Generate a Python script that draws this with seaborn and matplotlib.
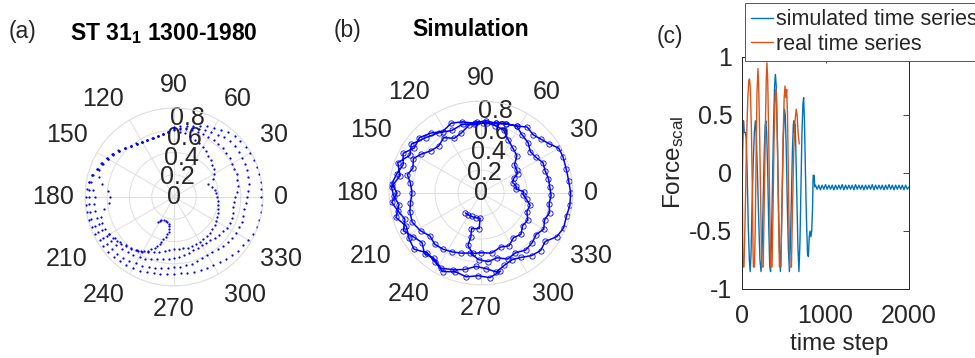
import numpy as np
import pandas as pd
import matplotlib
matplotlib.use("Agg")
import matplotlib.pyplot as plt
import seaborn as sns

# ---------------- (a) measured phase trajectory ----------------
# polar angle (deg) shared by the four sweeps of the trajectory
ANG_A = [90, 85, 80, 75, 70, 65, 60, 55, 50, 45, 40, 35,
         30, 25, 20, 15, 10, 5, 0, -5, -10, -15, -20, -25,
         -30, -35, -40, -45, -50, -55, -60, -65, -70, -75, -80, -85,
         -90, -95, -100, -105, -110, -115, -120, -125, -130, -135, -140, -145,
         -150, -155, -160, -165, -170, -175, -180, -185, -190, -195, -200, -205,
         -210, -215, -220, -225, -230, -235, -240, -245, -250, -255, -260, -265]
SWEEP_1 = [0.60, 0.59, 0.585, 0.57, 0.55, 0.535, 0.52, 0.50, 0.48, 0.465, 0.45, 0.435,
           0.42, 0.39, 0.33, 0.35, 0.37, 0.38, 0.39, 0.395, 0.40, 0.41, 0.42, 0.43,
           0.44, 0.445, 0.45, 0.455, 0.46, 0.46, 0.465, 0.465, 0.47, 0.47, 0.47, 0.47,
           0.47, 0.48, 0.49, 0.51, 0.53, 0.55, 0.57, 0.585, 0.60, 0.615, 0.63, 0.65,
           0.67, 0.68, 0.69, 0.68, 0.64, 0.59, 0.575, 0.60, 0.66, 0.70, 0.72, 0.705,
           0.69, 0.668, 0.646, 0.62, 0.597, 0.583, 0.57, 0.566, 0.563, 0.567, 0.573, 0.585]
SWEEP_2 = [0.61, 0.615, 0.62, 0.62, 0.62, 0.62, 0.62, 0.62, 0.62, 0.62, 0.615, 0.61,
           0.60, 0.60, 0.60, 0.59, 0.58, 0.565, 0.55, 0.545, 0.54, 0.55, 0.555, 0.555,
           0.55, 0.54, 0.53, 0.52, 0.51, 0.50, 0.50, 0.505, 0.51, 0.52, 0.53, 0.54,
           0.55, 0.56, 0.57, 0.58, 0.595, 0.61, 0.62, 0.635, 0.65, 0.66, 0.675, 0.69,
           0.70, 0.71, 0.72, 0.72, 0.72, 0.72, 0.71, 0.73, 0.76, 0.75, 0.73, 0.71,
           0.69, 0.665, 0.648, 0.622, 0.598, 0.584, 0.571, 0.565, 0.562, 0.566, 0.572, 0.584]
SWEEP_3 = [0.62, 0.625, 0.63, 0.64, 0.65, 0.66, 0.67, 0.685, 0.70, 0.71, 0.71, 0.71,
           0.71, 0.705, 0.70, 0.69, 0.68, 0.67, 0.66, 0.65, 0.64, 0.645, 0.65, 0.645,
           0.64, 0.635, 0.63, 0.62, 0.61, 0.60, 0.60, 0.605, 0.61, 0.62, 0.625, 0.63,
           0.63, 0.64, 0.65, 0.66, 0.67, 0.68, 0.69, 0.70, 0.71, 0.72, 0.73, 0.735,
           0.74, 0.75, 0.76, 0.77, 0.77, 0.77, 0.76, 0.77, 0.78, 0.76, 0.735, 0.715,
           0.695, 0.67, 0.65, 0.624, 0.60, 0.586, 0.573, 0.567, 0.565, 0.569, 0.575, 0.588]
SWEEP_4 = [0.63, 0.64, 0.65, 0.66, 0.68, 0.70, 0.72, 0.74, 0.76, 0.77, 0.78, 0.785,
           0.785, 0.79, 0.795, 0.795, 0.79, 0.785, 0.78, 0.79, 0.795, 0.795, 0.79, 0.78,
           0.77, 0.76, 0.75, 0.74, 0.725, 0.715, 0.71, 0.705, 0.70, 0.70, 0.695, 0.69,
           0.69, 0.695, 0.70, 0.71, 0.72, 0.73, 0.74, 0.75, 0.755, 0.76, 0.77, 0.775,
           0.77, 0.78, 0.785, 0.79, 0.79, 0.79, 0.79, 0.785, 0.78, 0.765, 0.74, 0.72,
           0.70, 0.675, 0.652, 0.626, 0.603, 0.588, 0.575, 0.57, 0.567, 0.572, 0.578, 0.59]
# inner hook where the trajectory starts
HOOK_THETA = [237, 239, 241, 246, 251, 255, 258.6, 260.5, 261.5, 261,
              259.6, 258, 255.5, 254, 253, 251, 249, 246.5, 244, 241,
              238.6, 236.5, 234.5, 230, 225.4, 221.5, 217.7, 213.5, 209.6]
HOOK_R = [0.27, 0.25, 0.235, 0.228, 0.224, 0.232, 0.247, 0.265, 0.291, 0.315,
          0.34, 0.365, 0.392, 0.418, 0.445, 0.467, 0.489, 0.512, 0.536, 0.555,
          0.571, 0.58, 0.59, 0.605, 0.62, 0.633, 0.647, 0.66, 0.677]

# ---------------- (b) simulated phase trajectory ----------------
SIM_THETA = [232, 240, 248, 258, 268, 267, 255, 257, 256, 262,
             270, 280, 290, 298, 306, 314, 322, 330, 338, 346, 352, 357, 362, 366, 372, 378, 384,
             388, 393, 400, 406, 415, 423, 430, 438, 445, 453, 460, 468, 476, 484, 492, 500, 507,
             513, 520, 526, 532, 540, 548, 555, 563, 572, 580, 588, 596, 604, 612, 620,
             628, 636, 644, 652, 660, 668, 676, 683, 690, 697, 704, 711, 718, 725, 732, 739, 746,
             753, 760, 767, 775, 782, 790, 798, 806, 815, 825, 833, 842, 850, 858, 866, 873, 880,
             887, 894, 900, 906, 912, 919, 926, 933, 940, 947, 954, 962, 970, 978, 986,
             994, 1001, 1008, 1015, 1022, 1029, 1036, 1043, 1050, 1057, 1065, 1072, 1080, 1088,
             1096, 1104, 1110, 1116, 1122, 1128, 1135, 1142, 1150, 1158, 1168, 1176,
             1185, 1195, 1205, 1215, 1225, 1232, 1240, 1248, 1256, 1262, 1268, 1276, 1284, 1292,
             1300, 1308, 1316, 1324, 1332, 1340, 1348, 1356, 1364]
SIM_R = [0.22, 0.22, 0.22, 0.22, 0.22, 0.31, 0.32, 0.39, 0.47, 0.53,
         0.52, 0.53, 0.50, 0.52, 0.48, 0.50, 0.46, 0.47, 0.43, 0.44, 0.40, 0.37, 0.37, 0.31, 0.31, 0.29, 0.31,
         0.36, 0.37, 0.38, 0.45, 0.48, 0.52, 0.58, 0.60, 0.61, 0.62, 0.60, 0.55, 0.53, 0.58, 0.55, 0.57, 0.62,
         0.66, 0.63, 0.66, 0.62, 0.60, 0.62, 0.64, 0.65, 0.62, 0.58, 0.60, 0.59, 0.57, 0.55, 0.53,
         0.58, 0.60, 0.58, 0.62, 0.60, 0.63, 0.62, 0.60, 0.63, 0.60, 0.62, 0.60, 0.61, 0.60, 0.60, 0.59, 0.60,
         0.57, 0.56, 0.60, 0.62, 0.66, 0.64, 0.62, 0.63, 0.61, 0.64, 0.66, 0.63, 0.68, 0.72, 0.70, 0.76, 0.72,
         0.75, 0.78, 0.73, 0.78, 0.74, 0.70, 0.75, 0.70, 0.67, 0.72, 0.70, 0.74, 0.71, 0.68, 0.64,
         0.66, 0.70, 0.66, 0.64, 0.66, 0.70, 0.72, 0.70, 0.76, 0.78, 0.77, 0.78, 0.78, 0.77,
         0.77, 0.78, 0.78, 0.73, 0.70, 0.68, 0.70, 0.66, 0.64, 0.62, 0.61, 0.60,
         0.62, 0.60, 0.64, 0.68, 0.74, 0.70, 0.77, 0.72, 0.78, 0.76, 0.72, 0.77, 0.71, 0.74,
         0.76, 0.70, 0.72, 0.76, 0.72, 0.74, 0.72, 0.74, 0.70]

# ---------------- (c) scaled force time series ----------------
SIM_STEP_ACTIVE = [0, 8, 18, 28, 40, 50, 62, 75, 88, 98,
                   108, 120, 135, 148, 160, 170, 185, 200, 215, 228,
                   240, 252, 265, 277, 285, 295, 308, 320, 332, 342,
                   352, 365, 378, 390, 400, 410, 422, 435, 448, 460,
                   470, 482, 495, 508, 518, 530, 542, 555, 568, 580,
                   592, 604, 615, 622, 628, 636, 645, 658, 670, 682,
                   694, 706, 718, 730, 738, 748, 760, 772, 785, 795,
                   805, 815, 825, 835, 845, 852, 865, 870]
SIM_FORCE_ACTIVE = [-0.3, 0.2, 0.45, 0.35, 0.35, 0.3, 0.0, -0.45, -0.75, -0.85,
                    -0.7, -0.3, 0.1, 0.35, 0.45, 0.35, 0.0, -0.4, -0.75, -0.85,
                    -0.7, -0.3, 0.15, 0.4, 0.45, 0.35, 0.0, -0.45, -0.8, -0.85,
                    -0.6, -0.1, 0.4, 0.75, 0.85, 0.75, 0.35, -0.2, -0.65, -0.85,
                    -0.6, -0.15, 0.3, 0.55, 0.5, 0.2, -0.25, -0.65, -0.85, -0.6,
                    -0.2, 0.2, 0.42, 0.45, 0.35, 0.42, 0.2, -0.25, -0.65, -0.85,
                    -0.6, -0.1, 0.35, 0.6, 0.65, 0.45, 0.0, -0.4, -0.7, -0.72,
                    -0.55, -0.5, -0.55, -0.5, -0.3, -0.02, -0.02, -0.12]
SIM_STEP_REST = [880, 900, 920, 940, 960, 980, 1000, 1020, 1040, 1060,
                 1080, 1100, 1120, 1140, 1160, 1180, 1200, 1220, 1240, 1260,
                 1280, 1300, 1320, 1340, 1360, 1380, 1400, 1420, 1440, 1460,
                 1480, 1500, 1520, 1540, 1560, 1580, 1600, 1620, 1640, 1660,
                 1680, 1700, 1720, 1740, 1760, 1780, 1800, 1820, 1840, 1860,
                 1880, 1900, 1920, 1940, 1960, 1980, 2000]
SIM_FORCE_REST = [-0.105, -0.14, -0.105, -0.145, -0.105, -0.14, -0.10, -0.14, -0.105, -0.14,
                  -0.105, -0.145, -0.105, -0.14, -0.105, -0.14, -0.10, -0.145, -0.105, -0.14,
                  -0.105, -0.14, -0.105, -0.145, -0.10, -0.14, -0.105, -0.14, -0.105, -0.145,
                  -0.105, -0.14, -0.105, -0.14, -0.10, -0.145, -0.105, -0.14, -0.105, -0.14,
                  -0.105, -0.145, -0.105, -0.14, -0.10, -0.14, -0.105, -0.145, -0.105, -0.14,
                  -0.105, -0.14, -0.105, -0.145, -0.105, -0.14, -0.12]
REAL_STEP = [0, 6, 10, 24, 40, 55, 70, 82, 91, 100,
             112, 125, 133, 137, 150, 160, 170, 180, 191, 200,
             212, 225, 236, 254, 265, 278, 290, 299, 308, 320,
             332, 343, 360, 372, 384, 396, 405, 414, 426, 438,
             448, 466, 478, 492, 505, 515, 525, 535, 545, 555,
             566, 572, 592, 605, 620, 635, 649, 660, 672, 685]
REAL_FORCE = [0.34, -0.3, -0.81, -0.81, -0.3, 0.3, 0.65, 0.8, 0.81, 0.72,
              0.4, -0.2, -0.7, -0.81, -0.81, -0.4, 0.2, 0.7, 0.9, 0.75,
              0.3, -0.3, -0.81, -0.81, -0.3, 0.3, 0.8, 0.95, 0.8, 0.3,
              -0.3, -0.81, -0.81, -0.3, 0.3, 0.65, 0.72, 0.6, 0.2, -0.4,
              -0.81, -0.81, -0.3, 0.3, 0.65, 0.75, 0.65, 0.72, 0.5, 0.0,
              -0.6, -0.81, -0.81, -0.3, 0.2, 0.45, 0.55, 0.5, 0.35, 0.25]

THETA_TICKS = [0, 30, 60, 90, 120, 150, 180, 210, 240, 270, 300, 330]
R_TICKS = [0, 0.2, 0.4, 0.6, 0.8]
R_TICK_LABELS = ["0", "0.2", "0.4", "0.6", "0.8"]
TS_XTICKS = [0, 1000, 2000]
TS_YTICKS = [-1, -0.5, 0, 0.5, 1]
TS_YTICK_LABELS = ["-1", "-0.5", "0", "0.5", "1"]

# ---------------- style ----------------
sns.set_style("white")
plt.rcParams["font.family"] = ["Liberation Sans", "DejaVu Sans"]
plt.rcParams["mathtext.default"] = "regular"
plt.rcParams["axes.unicode_minus"] = False

TXT = "#262626"
GRID = "#dedede"
PBLUE = "#0000ff"
FS = 16.5      # titles, panel letters
TICK_FS = 18   # tick labels
W, H = 975, 358

fig = plt.figure(figsize=(W / 100, H / 100), dpi=100)


def px_rect(x0, y0, x1, y1):
    return [x0 / W, 1 - y1 / H, (x1 - x0) / W, (y1 - y0) / H]


def style_polar(ax):
    ax.set_xlabel("")
    ax.set_ylabel("")
    ax.set_xticks(np.deg2rad(THETA_TICKS))
    ax.set_xticklabels([])
    ax.set_yticks(R_TICKS[1:])
    ax.set_yticklabels([])
    ax.set_ylim(0, 0.8)
    ax.grid(True, color=GRID, lw=0.7)
    ax.spines["polar"].set_color(GRID)
    ax.spines["polar"].set_linewidth(0.7)
    for deg in THETA_TICKS:
        c, s = np.cos(np.deg2rad(deg)), np.sin(np.deg2rad(deg))
        ha = "left" if c > 0.1 else ("right" if c < -0.1 else "center")
        va = "bottom" if s > 0.1 else ("top" if s < -0.1 else "center")
        ax.text(np.deg2rad(deg), 0.895, str(deg), ha=ha, va=va,
                fontsize=TICK_FS, color=TXT, clip_on=False)
    for rv, lab in zip(R_TICKS, R_TICK_LABELS):
        ax.text(np.deg2rad(80), rv * 0.9, lab, ha="center", va="center",
                fontsize=TICK_FS, color=TXT, zorder=1)


# (a) dotted trajectory
axa = fig.add_axes(px_rect(85, 108, 263, 286), projection="polar")
sweeps = [SWEEP_1, SWEEP_2, SWEEP_3, SWEEP_4]
frames = [pd.DataFrame({"theta": np.deg2rad(ANG_A), "r": sw}) for sw in sweeps]
frames.append(pd.DataFrame({"theta": np.deg2rad(HOOK_THETA), "r": HOOK_R}))
df_a = pd.concat(frames, ignore_index=True)
sns.scatterplot(data=df_a, x="theta", y="r", ax=axa, color=PBLUE, s=2.6,
                linewidth=0, legend=False, zorder=3)
style_polar(axa)

# (b) simulated trajectory with markers
axb = fig.add_axes(px_rect(389, 101, 573, 285), projection="polar")
df_b = pd.DataFrame({"theta": np.deg2rad(SIM_THETA), "r": SIM_R})
sns.lineplot(data=df_b, x="theta", y="r", ax=axb, sort=False, estimator=None,
             color=PBLUE, lw=1.1, marker="o", markersize=3.8,
             markerfacecolor="none", markeredgecolor=PBLUE, markeredgewidth=0.6,
             zorder=3)
style_polar(axb)

# (c) time series
axc = fig.add_axes(px_rect(742, 57, 909, 289))
df_sim = pd.DataFrame({"step": SIM_STEP_ACTIVE + SIM_STEP_REST,
                       "force": SIM_FORCE_ACTIVE + SIM_FORCE_REST})
df_real = pd.DataFrame({"step": REAL_STEP, "force": REAL_FORCE})
sns.lineplot(data=df_sim, x="step", y="force", ax=axc, sort=False, estimator=None,
             color="#0072BD", lw=1.0, label="simulated time series")
sns.lineplot(data=df_real, x="step", y="force", ax=axc, sort=False, estimator=None,
             color="#D95319", lw=1.0, label="real time series")
axc.set_xlim(0, 2000)
axc.set_ylim(-1, 1)
axc.set_xticks(TS_XTICKS)
axc.set_xticklabels([str(v) for v in TS_XTICKS])
axc.set_yticks(TS_YTICKS)
axc.set_yticklabels(TS_YTICK_LABELS)
axc.tick_params(direction="in", length=4, width=0.6, top=True, right=True,
                labelsize=TICK_FS, colors=TXT)
axc.tick_params(axis="x", pad=11)
axc.tick_params(axis="y", pad=7)
for sp in axc.spines.values():
    sp.set_color(TXT)
    sp.set_linewidth(0.7)
axc.set_xlabel("time step", fontsize=17.5, color=TXT)
axc.set_ylabel(r"Force$_\mathregular{scal}$", fontsize=17.5, color=TXT)
axc.xaxis.set_label_coords(0.58, -0.19)
axc.yaxis.set_label_coords(-0.335, 0.547)
leg = axc.legend(loc="upper left", bbox_to_anchor=(745 / W, 1 - 3 / H),
                 bbox_transform=fig.transFigure, fontsize=15.5, frameon=True,
                 fancybox=False, edgecolor="#555555", framealpha=1,
                 borderpad=0.3, labelspacing=0.15, handlelength=1.0,
                 handletextpad=0.15, borderaxespad=0)
leg.get_frame().set_linewidth(0.7)

# panel letters and titles
fig.text(22.5 / W, 1 - 38 / H, "(a)", ha="center", va="baseline", fontsize=FS, color=TXT)
fig.text(347.5 / W, 1 - 37 / H, "(b)", ha="center", va="baseline", fontsize=FS, color=TXT)
fig.text(670 / W, 1 - 43 / H, "(c)", ha="center", va="baseline", fontsize=FS, color=TXT)
fig.text(164 / W, 1 - 40 / H, r"ST 31$_\mathregular{1}$ 1300-1980", ha="center",
         va="baseline", fontsize=FS, fontweight="bold", color="black")
fig.text(470.5 / W, 1 - 36 / H, "Simulation", ha="center", va="baseline",
         fontsize=FS, fontweight="bold", color="black")

fig.savefig("out.png", dpi=100, facecolor="white")
